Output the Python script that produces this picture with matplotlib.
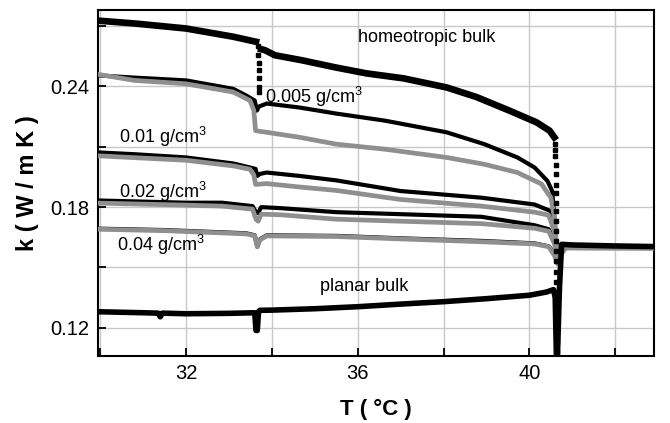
import matplotlib
matplotlib.use("Agg")
import matplotlib.pyplot as plt
from matplotlib.ticker import MultipleLocator

plt.rcParams['font.family'] = ['Liberation Sans', 'DejaVu Sans']
plt.rcParams['mathtext.fontset'] = 'custom'
plt.rcParams['mathtext.rm'] = 'Liberation Sans'
plt.rcParams['mathtext.it'] = 'Liberation Sans'

# ---------------- data ----------------
# homeotropic bulk (nematic part before/after 33.7 step)
homeo_T1 = [29.95, 30.8, 32.0, 33.1, 33.63]
homeo_k1 = [0.2727, 0.2713, 0.2688, 0.2647, 0.2622]
homeo_T2 = [33.75, 33.84, 34.07, 34.7, 35.47, 36.2, 37.07, 38.07, 38.77, 39.53, 40.16, 40.47, 40.58]
homeo_k2 = [0.2585, 0.258, 0.2555, 0.253, 0.2495, 0.2465, 0.244, 0.2395, 0.2347, 0.228, 0.2222, 0.218, 0.2147]
homeo_jump1_T = [33.67, 33.68, 33.69, 33.69, 33.70, 33.70, 33.71]
homeo_jump1_k = [0.2600, 0.2555, 0.2515, 0.2480, 0.2440, 0.2395, 0.2370]
homeo_jump2_T = [40.60, 40.60, 40.60, 40.61, 40.61, 40.61, 40.61, 40.62, 40.62, 40.62, 40.62,
                 40.62, 40.63, 40.63, 40.63, 40.63, 40.63, 40.63, 40.64, 40.64, 40.64, 40.64, 40.64]
homeo_jump2_k = [0.2115, 0.2085, 0.2055, 0.2010, 0.1965, 0.1910, 0.1870, 0.1820, 0.1780, 0.1730,
                 0.1680, 0.1630, 0.1580, 0.1530, 0.1480, 0.1430, 0.1380, 0.1330, 0.1280, 0.1230,
                 0.1180, 0.1130, 0.1080]
iso_T = [40.65, 40.70, 40.75, 41.0, 42.0, 42.9]
iso_k = [0.1040, 0.1400, 0.1615, 0.1612, 0.1607, 0.1604]

# planar bulk
planar_T = [29.95, 31.0, 31.35, 31.4, 31.45, 32.0, 33.0, 33.6, 33.63, 33.66, 33.69, 33.72,
            34.0, 35.0, 36.0, 37.0, 38.0, 39.0, 40.0, 40.4, 40.56, 40.6, 40.63]
planar_k = [0.1280, 0.1275, 0.1273, 0.1255, 0.1273, 0.1270, 0.1272, 0.1275, 0.1187, 0.1187,
            0.1280, 0.1287, 0.1288, 0.1295, 0.1305, 0.1318, 0.1330, 0.1345, 0.1362, 0.1378,
            0.1390, 0.1350, 0.1040]

# aerosil-dispersed samples: black and grey curve for each density
c005_black_T = [29.95, 30.7, 32.0, 33.1, 33.4, 33.6, 33.65, 33.7, 33.88, 34.65, 35.5,
                36.63, 38.07, 38.95, 39.72, 40.12, 40.42, 40.53, 40.6, 40.66, 40.72, 40.8, 42.9]
c005_black_k = [0.2455, 0.2445, 0.2430, 0.2388, 0.2355, 0.2330, 0.2280, 0.2300, 0.2315, 0.2295,
                0.2265, 0.2230, 0.2172, 0.2113, 0.2047, 0.1997, 0.1930, 0.1880, 0.1700,
                0.1520, 0.1580, 0.1605, 0.1600]
c005_grey_T = [29.95, 30.8, 32.0, 33.1, 33.49, 33.58, 33.62, 33.88, 34.65, 35.5, 36.63,
               38.07, 38.95, 39.72, 40.28, 40.5, 40.58, 40.66, 40.74, 40.85, 42.9]
c005_grey_k = [0.2460, 0.2430, 0.2413, 0.2372, 0.2330, 0.2280, 0.2180, 0.2172, 0.2147,
               0.2113, 0.2088, 0.2047, 0.2013, 0.1972, 0.1915, 0.1847, 0.1750, 0.1520, 0.1570,
               0.1598, 0.1597]

c001_black_T = [29.95, 30.8, 32.0, 33.1, 33.49, 33.62, 33.66, 33.72, 33.88, 34.65, 35.5,
                37.0, 38.88, 40.12, 40.5, 40.6, 40.66, 40.74, 40.85, 42.9]
c001_black_k = [0.2072, 0.2063, 0.2047, 0.2017, 0.1997, 0.1990, 0.1955, 0.1965, 0.1972, 0.1955,
                0.1933, 0.1880, 0.1847, 0.1813, 0.1780, 0.1680, 0.1520, 0.1580, 0.1605,
                0.1600]
c001_grey_T = [29.95, 32.0, 33.1, 33.49, 33.58, 33.62, 33.88, 34.65, 35.5, 37.0, 38.88, 40.12,
               40.45, 40.58, 40.66, 40.74, 40.85, 42.9]
c001_grey_k = [0.2055, 0.2033, 0.2005, 0.1988, 0.1960, 0.1913, 0.1917, 0.1900, 0.1883, 0.1838,
               0.1805, 0.1775, 0.1760, 0.1680, 0.1520, 0.1570, 0.1598, 0.1597]

c002_black_T = [29.95, 32.0, 32.84, 33.55, 33.63, 33.68, 33.75, 34.2, 35.5, 37.0, 38.88, 40.12,
                40.45, 40.58, 40.66, 40.74, 40.85, 42.9]
c002_black_k = [0.1833, 0.1822, 0.1822, 0.1805, 0.1775, 0.1770, 0.1800, 0.1795, 0.1775, 0.1765,
                0.1752, 0.1710, 0.1690, 0.1640, 0.1520, 0.1580, 0.1605, 0.1600]
c002_grey_T = [29.95, 32.0, 32.84, 33.55, 33.63, 33.68, 33.75, 34.2, 35.5, 37.0, 38.88, 40.12,
               40.45, 40.58, 40.66, 40.74, 40.85, 42.9]
c002_grey_k = [0.1820, 0.1810, 0.1805, 0.1790, 0.1740, 0.1730, 0.1765, 0.1762, 0.1740, 0.1730,
               0.1718, 0.1695, 0.1680, 0.1620, 0.1520, 0.1570, 0.1598, 0.1597]

c004_black_T = [29.95, 31.5, 33.4, 33.6, 33.66, 33.72, 33.88, 35.5, 37.0, 38.88, 40.12, 40.45,
                40.58, 40.66, 40.74, 40.85, 42.9]
c004_black_k = [0.1693, 0.1686, 0.1670, 0.1660, 0.1603, 0.1640, 0.1660, 0.1657, 0.1645, 0.1632,
                0.1620, 0.1605, 0.1570, 0.1520, 0.1580, 0.1605, 0.1600]
c004_grey_T = [29.95, 31.5, 33.4, 33.6, 33.66, 33.72, 33.88, 35.5, 37.0, 38.88, 40.12, 40.45,
               40.58, 40.66, 40.74, 40.85, 42.9]
c004_grey_k = [0.1690, 0.1683, 0.1667, 0.1657, 0.1603, 0.1637, 0.1657, 0.1654, 0.1642, 0.1628,
               0.1617, 0.1603, 0.1560, 0.1520, 0.1570, 0.1598, 0.1597]

labels = ["homeotropic bulk", "0.005 g/cm$^{3}$", "0.01 g/cm$^{3}$", "0.02 g/cm$^{3}$",
          "0.04 g/cm$^{3}$", "planar bulk"]
label_T = [36.0, 33.84, 30.44, 30.44, 30.40, 35.12]
label_k = [0.2645, 0.2347, 0.2147, 0.1877, 0.1612, 0.1405]

xticks_major = [32, 36, 40]
yticks_major = [0.12, 0.18, 0.24]

# ---------------- figure ----------------
fig = plt.figure(figsize=(6.7, 4.23), dpi=100)
ax = fig.add_axes([0.1463, 0.1584, 0.8297, 0.8180])

BLACK = '#000000'
GREY = '#8f8f8f'

blacks = [(c005_black_T, c005_black_k), (c001_black_T, c001_black_k),
          (c002_black_T, c002_black_k), (c004_black_T, c004_black_k)]
greys = [(c005_grey_T, c005_grey_k), (c001_grey_T, c001_grey_k),
         (c002_grey_T, c002_grey_k), (c004_grey_T, c004_grey_k)]

for T, k in blacks:
    ax.plot(T, k, color=BLACK, lw=3.0, solid_joinstyle='round', zorder=3)
for T, k in greys:
    ax.plot(T, k, color=GREY, lw=3.4, solid_joinstyle='round', zorder=4)

ax.plot(planar_T, planar_k, color=BLACK, lw=4.0, zorder=5)
ax.plot(homeo_T1, homeo_k1, color=BLACK, lw=4.8, zorder=6)
ax.plot(homeo_T2, homeo_k2, color=BLACK, lw=4.8, zorder=6)
ax.plot(homeo_jump1_T, homeo_jump1_k, ls='none', marker='s', ms=3.4, color=BLACK, zorder=6)
ax.plot(homeo_jump2_T, homeo_jump2_k, ls='none', marker='s', ms=3.4, color=BLACK, zorder=6)
ax.plot(iso_T, iso_k, color=BLACK, lw=4.0, zorder=6)

for txt, tx, ky in zip(labels, label_T, label_k):
    ax.text(tx, ky, txt, fontsize=13, ha='left', va='center', zorder=7)

ax.set_xlim(29.95, 42.9)
ax.set_ylim(0.106, 0.278)
ax.set_xticks(xticks_major)
ax.set_xticklabels([str(v) for v in xticks_major])
ax.set_yticks(yticks_major)
ax.set_yticklabels(["%.2f" % v for v in yticks_major])
ax.xaxis.set_minor_locator(MultipleLocator(2))
ax.yaxis.set_minor_locator(MultipleLocator(0.03))

ax.grid(True, which='both', color='#c8c8c8', lw=1.0, zorder=0)
ax.set_axisbelow(True)
ax.tick_params(which='both', direction='in', length=6, width=1.3, labelsize=14.5, pad=6,
               top=False, right=False)
for s in ax.spines.values():
    s.set_linewidth(1.5)

ax.set_xlabel("T ( °C )", fontsize=16, fontweight='bold', labelpad=11)
ax.set_ylabel("k ( W / m K )", fontsize=17, fontweight='bold', labelpad=8)

fig.savefig("out.png", dpi=100)
